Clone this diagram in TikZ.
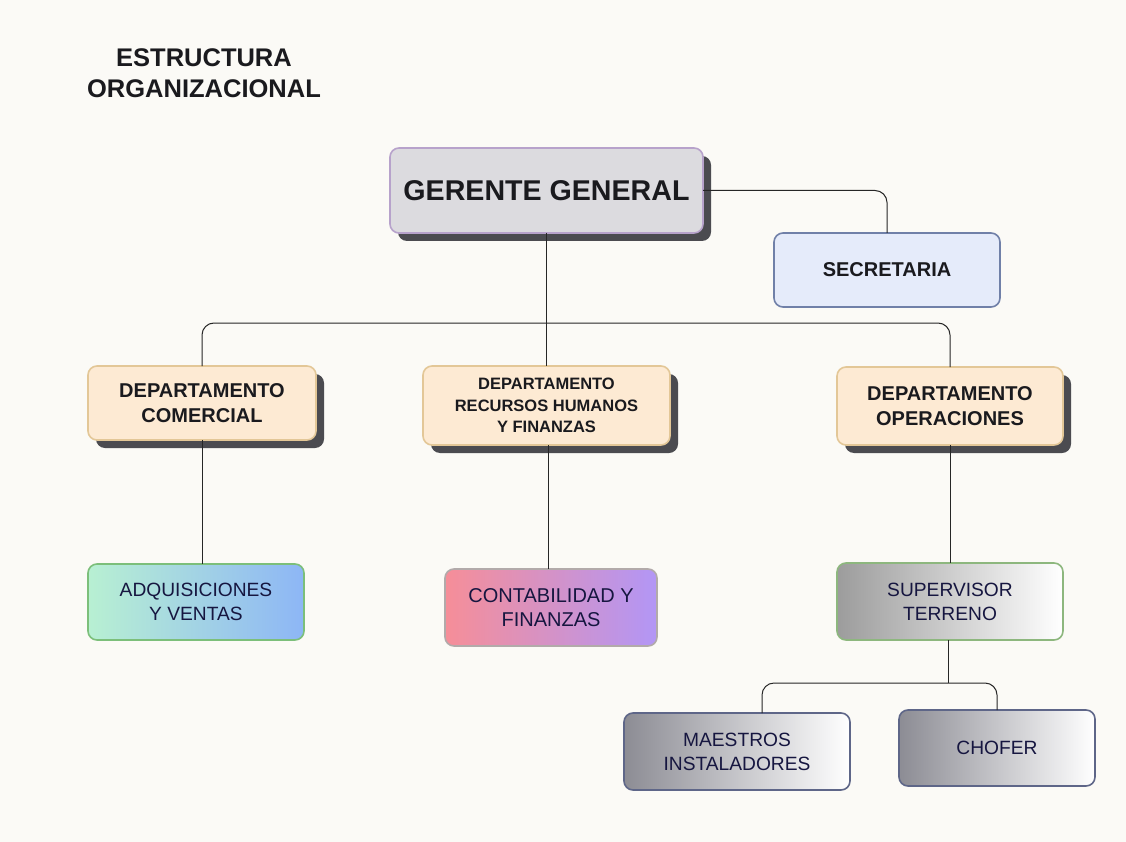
\documentclass[tikz,border=0pt]{standalone}
\usepackage{fontspec}
\setmainfont{Liberation Sans}
\usepackage{tikz}
\usetikzlibrary{positioning,shadows}

\definecolor{fondo}{HTML}{FBFAF6}
\definecolor{sombra}{HTML}{4B4B50}
\definecolor{gerfill}{HTML}{DCDBDF}
\definecolor{gerline}{HTML}{B7A2CB}
\definecolor{secfill}{HTML}{E5EBFA}
\definecolor{secline}{HTML}{7080A8}
\definecolor{depfill}{HTML}{FDEAD3}
\definecolor{depline}{HTML}{E3C797}
\definecolor{menta}{HTML}{B8F0D2}
\definecolor{celeste}{HTML}{8DB6F6}
\definecolor{verde}{HTML}{7CBF7A}
\definecolor{rosa}{HTML}{F68E98}
\definecolor{lila}{HTML}{B296F6}
\definecolor{gris}{HTML}{B2AAAA}
\definecolor{plomo}{HTML}{9C9C9C}
\definecolor{pizarra}{HTML}{8C8C94}
\definecolor{azulgris}{HTML}{5E6688}
\definecolor{verdegris}{HTML}{8DB77E}
\definecolor{texto}{HTML}{1A1A1E}

\begin{document}
\begin{tikzpicture}[x=1pt,y=-1pt,
	caja/.style={rounded corners=9pt, line width=1.6pt, align=center, inner sep=0pt, outer sep=0pt, text=texto},
	sombreada/.style={drop shadow={shadow xshift=8pt, shadow yshift=-8pt, fill=sombra, opacity=1}},
	jefe/.style={caja, sombreada, fill=gerfill, draw=gerline, font=\bfseries\fontsize{28.6}{32}\selectfont},
	apoyo/.style={caja, fill=secfill, draw=secline, font=\bfseries\fontsize{20}{24}\selectfont},
	depto/.style={caja, sombreada, fill=depfill, draw=depline, font=\bfseries\fontsize{20}{25}\selectfont},
	area/.style={caja, font=\fontsize{19.2}{24}\selectfont, text=texto!85!blue},
	linea/.style={line width=1pt, draw=black!85, rounded corners=12pt}]
	
	\fill[fondo] (0,0) rectangle (1126,842);
	\useasboundingbox (0,0) rectangle (1126,842);
	
	\node[font=\bfseries\fontsize{25.5}{31}\selectfont, align=center, text=texto] (titulo) at (204,73) {ESTRUCTURA\\ORGANIZACIONAL};
	
	\node[jefe, minimum width=313pt, minimum height=85pt] (gerente) at (546.5,190.5) {GERENTE GENERAL};
	\node[apoyo, minimum width=226pt, minimum height=74pt] (secretaria) at (887,270) {SECRETARIA};
	
	\node[depto, minimum width=228pt, minimum height=74pt] (comercial) at (202,403) {DEPARTAMENTO\\COMERCIAL};
	\node[depto, minimum width=247pt, minimum height=79pt, font=\bfseries\fontsize{16.5}{21.5}\selectfont] (rrhh) at (546.5,405.5) {DEPARTAMENTO\\RECURSOS HUMANOS\\Y FINANZAS};
	\node[depto, minimum width=226pt, minimum height=78pt] (operaciones) at (950,406) {DEPARTAMENTO\\OPERACIONES};
	
	\node[area, left color=menta, right color=celeste, draw=verde, minimum width=216pt, minimum height=76pt] (adquisiciones) at (196,602) {ADQUISICIONES\\Y VENTAS};
	\node[area, left color=rosa, right color=lila, draw=gris, minimum width=212pt, minimum height=77pt, font=\fontsize{20}{24}\selectfont] (contabilidad) at (551,607.5) {CONTABILIDAD Y\\FINANZAS};
	\node[area, left color=plomo, right color=white, draw=verdegris, minimum width=226pt, minimum height=77pt] (supervisor) at (950,601.5) {SUPERVISOR\\TERRENO};
	
	\node[area, left color=pizarra, right color=white, draw=azulgris, minimum width=226pt, minimum height=77pt] (maestros) at (737,751.5) {MAESTROS\\INSTALADORES};
	\node[area, left color=pizarra, right color=white, draw=azulgris, minimum width=196pt, minimum height=76pt] (chofer) at (997,748) {CHOFER};
	
	\coordinate (bus) at (546.5,323);
	\coordinate (subbus) at (948,683);
	
	\draw[linea] (gerente.east) -| (secretaria.north);
	\draw[linea] (gerente.south) -- (rrhh.north);
	\draw[linea] (comercial.north) |- (bus) -| (operaciones.north);
	\draw[linea] (comercial.south) -- (comercial.south |- adquisiciones.north);
	\draw[linea] ([xshift=2pt]rrhh.south) -- ([xshift=2pt]rrhh.south |- contabilidad.north);
	\draw[linea] (operaciones.south) -- (operaciones.south |- supervisor.north);
	\draw[linea] ([xshift=-2pt]supervisor.south) -- (subbus);
	\draw[linea] ([xshift=25pt]maestros.north) |- (subbus) -| (chofer.north);
\end{tikzpicture}
\end{document}
